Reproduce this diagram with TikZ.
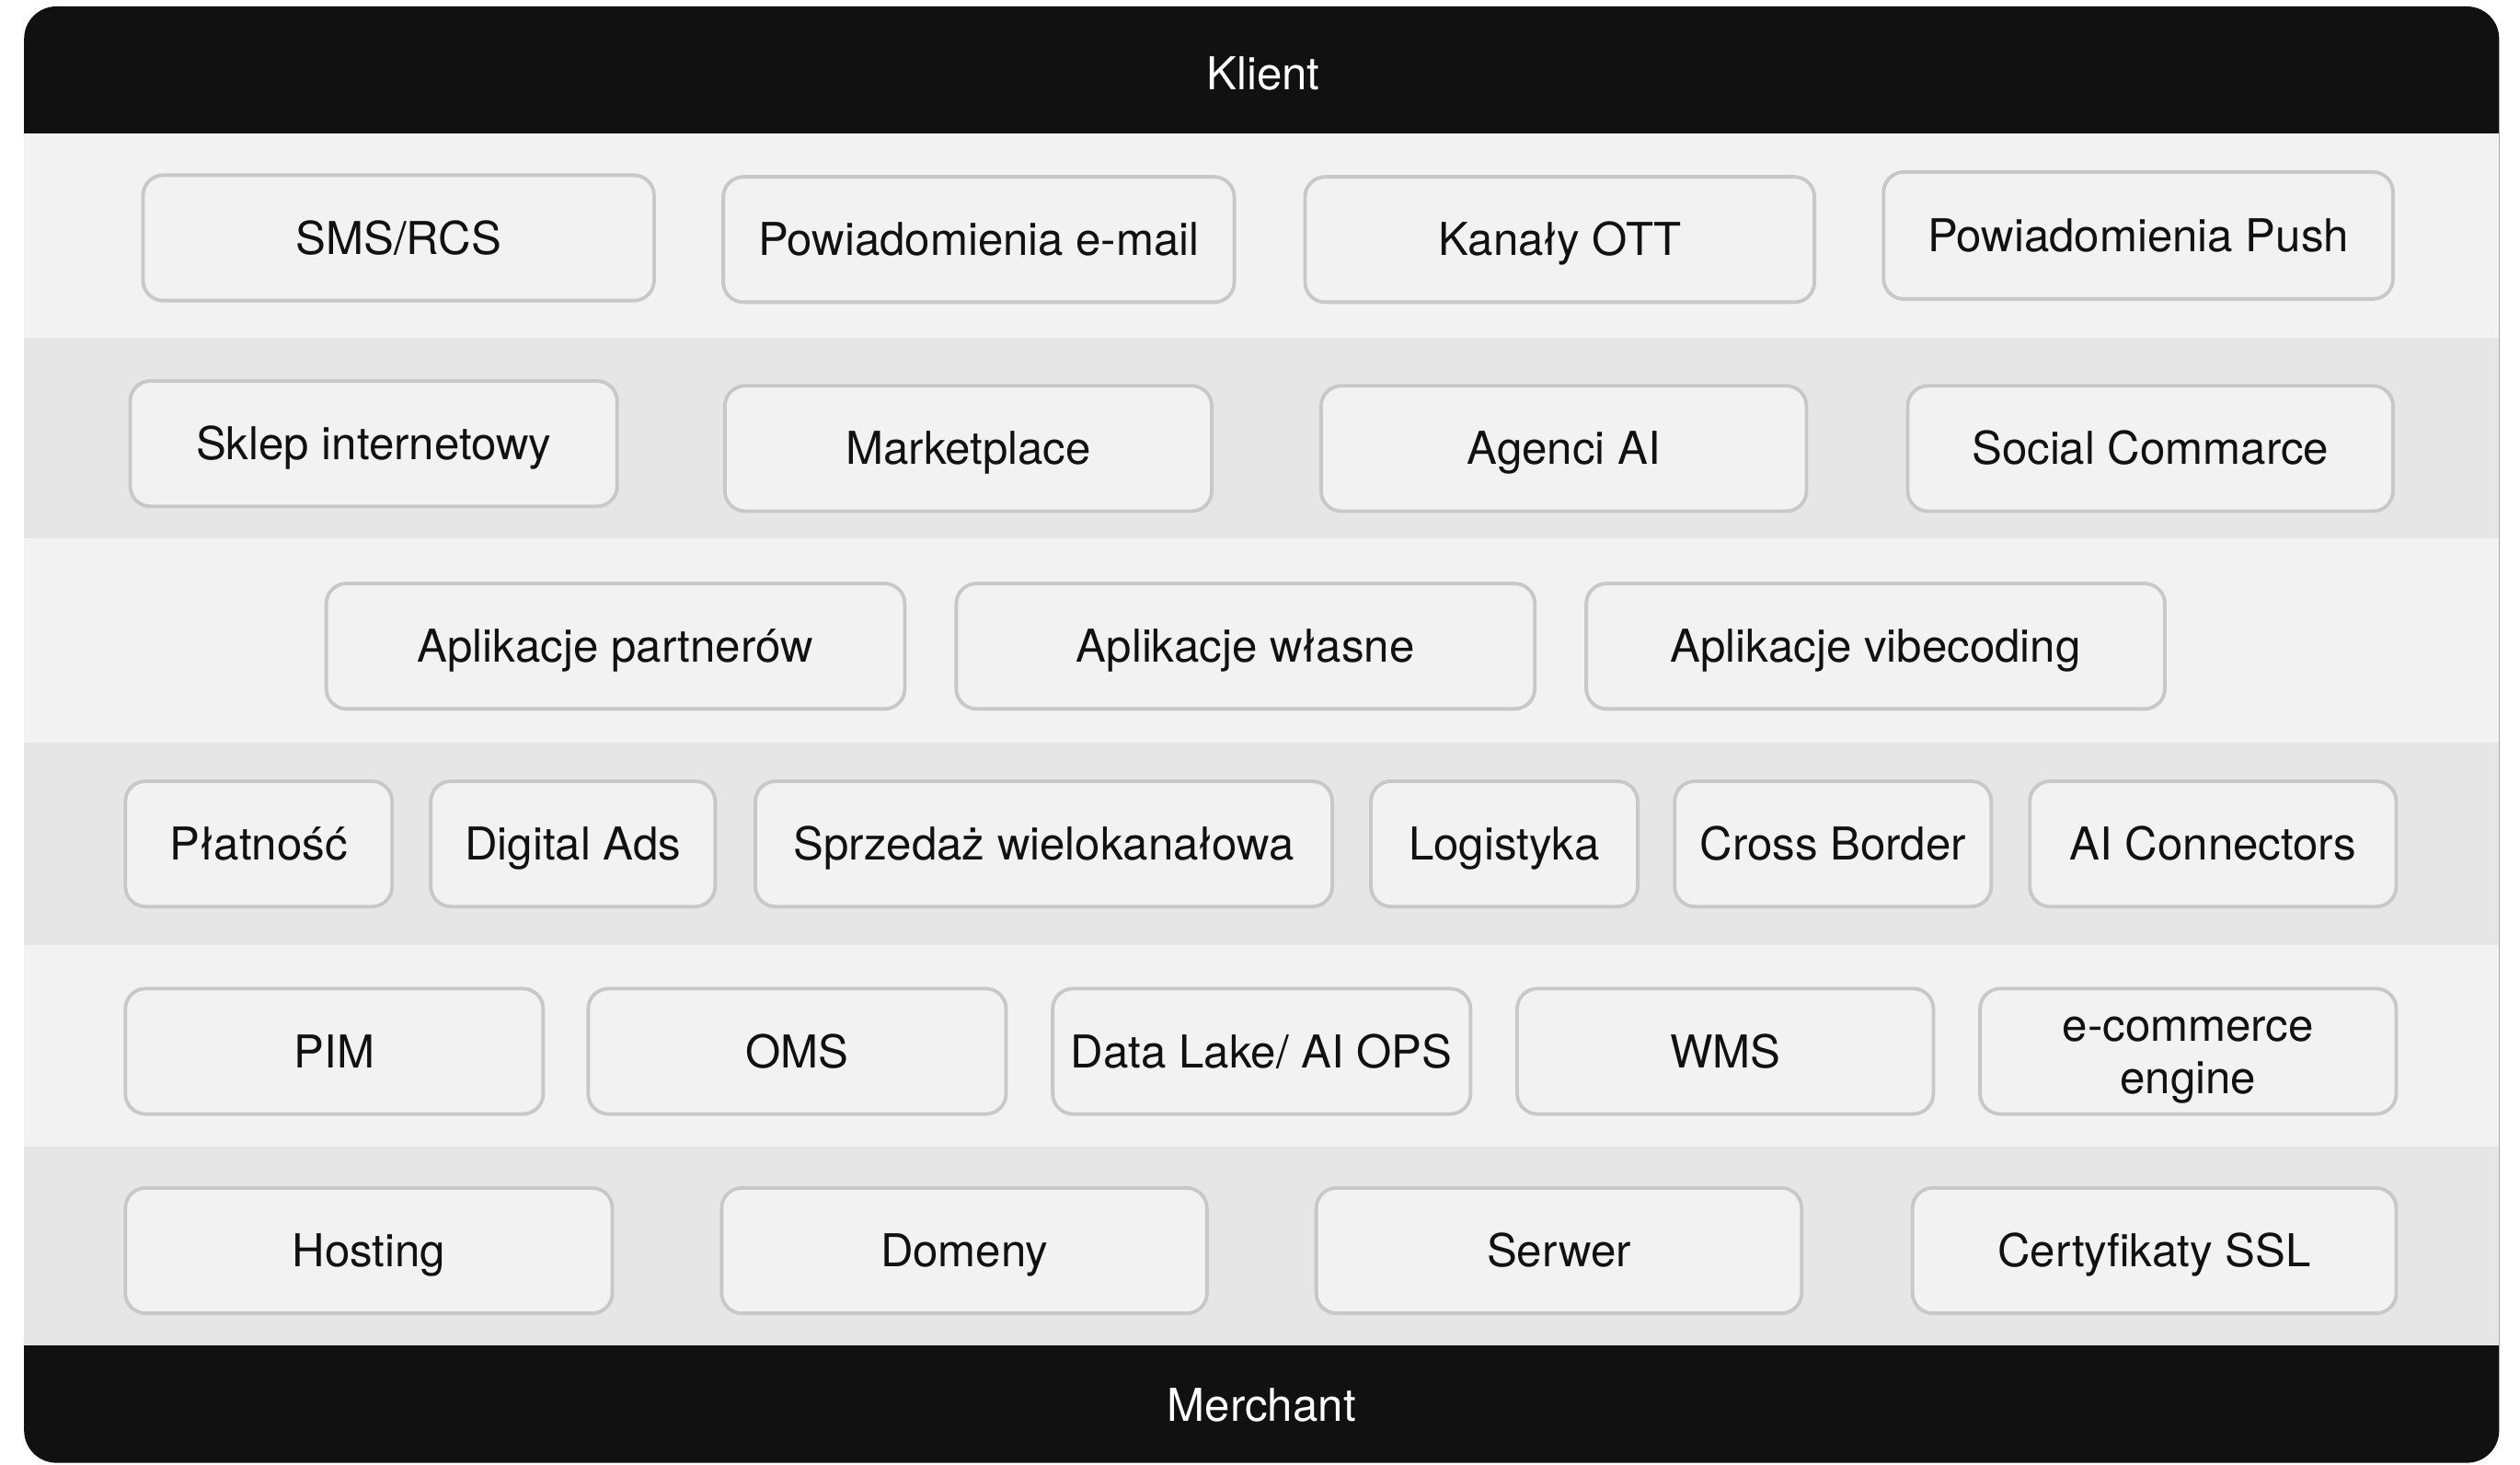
\documentclass[tikz,border=0pt]{standalone}
\usepackage{fontspec}
\setmainfont{TeX Gyre Heros}
\definecolor{ink}{HTML}{111111}
\definecolor{bandlight}{HTML}{F2F2F2}
\definecolor{banddark}{HTML}{E6E6E6}
\definecolor{tilefill}{HTML}{F2F2F2}
\definecolor{tileline}{HTML}{C8C8C8}
\tikzset{
  tile/.style={draw=tileline, fill=tilefill, line width=1.1pt, rounded corners=0.22cm,
    inner sep=0pt, outer sep=0pt, align=center, text=ink,
    text height=11pt, text depth=1pt,
    font=\fontsize{14}{16}\selectfont},
  twoline/.style={text height=27pt},
  barlabel/.style={text=white, inner sep=0pt, text height=11pt, text depth=1pt,
    font=\fontsize{14}{16}\selectfont},
  lightband/.style={fill=bandlight},
  darkband/.style={fill=banddark},
}
\newcommand\tilebox[7][]{%
  \node[tile, #1, minimum width={(#5-#3)*0.017468cm}, minimum height={(#6-#4)*0.017468cm}]
    (#2) at ({(#3+#5)/2},{(#4+#6)/2}) {#7};}
\begin{document}
\begin{tikzpicture}[x=0.017468cm,y=-0.017468cm]
\useasboundingbox (0,0) rectangle (1568,911);
% frame
\fill[ink, rounded corners=0.35cm] (15,4) rectangle (1555,910);
\fill[lightband] (15,83) rectangle (1555,210);
\fill[darkband]  (15,210) rectangle (1555,335);
\fill[lightband] (15,335) rectangle (1555,462);
\fill[darkband]  (15,462) rectangle (1555,588);
\fill[lightband] (15,588) rectangle (1555,713);
\fill[darkband]  (15,713) rectangle (1555,837);
\node[barlabel] (klient) at (786,46) {Klient};
\node[barlabel] (merchant) at (785,874) {Merchant};
% row 1
\tilebox{sms}{89}{109}{407}{187}{SMS/RCS}
\tilebox{email}{450}{110}{768}{188}{Powiadomienia e-mail}
\tilebox{ott}{812}{110}{1129}{188}{Kanały OTT}
\tilebox{push}{1172}{107}{1489}{186}{Powiadomienia Push}
% row 2
\tilebox{sklep}{81}{237}{384}{315}{Sklep internetowy}
\tilebox{market}{451}{240}{754}{318}{Marketplace}
\tilebox{agenci}{822}{240}{1124}{318}{Agenci AI}
\tilebox{social}{1187}{240}{1489}{318}{Social Commarce}
% row 3
\tilebox{partner}{203}{363}{563}{441}{Aplikacje partnerów}
\tilebox{wlasne}{595}{363}{955}{441}{Aplikacje własne}
\tilebox{vibe}{987}{363}{1347}{441}{Aplikacje vibecoding}
% row 4
\tilebox{platnosc}{78}{486}{244}{564}{Płatność}
\tilebox{ads}{268}{486}{445}{564}{Digital Ads}
\tilebox{sprzedaz}{470}{486}{829}{564}{Sprzedaż wielokanałowa}
\tilebox{logistyka}{853}{486}{1019}{564}{Logistyka}
\tilebox{cross}{1042}{486}{1239}{564}{Cross Border}
\tilebox{aiconn}{1263}{486}{1491}{564}{AI Connectors}
% row 5
\tilebox{pim}{78}{615}{338}{693}{PIM}
\tilebox{oms}{366}{615}{626}{693}{OMS}
\tilebox{datalake}{655}{615}{915}{693}{Data Lake/ AI OPS}
\tilebox{wms}{944}{615}{1203}{693}{WMS}
\tilebox[twoline]{engine}{1232}{615}{1491}{693}{e-commerce\\engine}
% row 6
\tilebox{hosting}{78}{739}{381}{817}{Hosting}
\tilebox{domeny}{449}{739}{751}{817}{Domeny}
\tilebox{serwer}{819}{739}{1121}{817}{Serwer}
\tilebox{ssl}{1190}{739}{1491}{817}{Certyfikaty SSL}
\end{tikzpicture}
\end{document}
